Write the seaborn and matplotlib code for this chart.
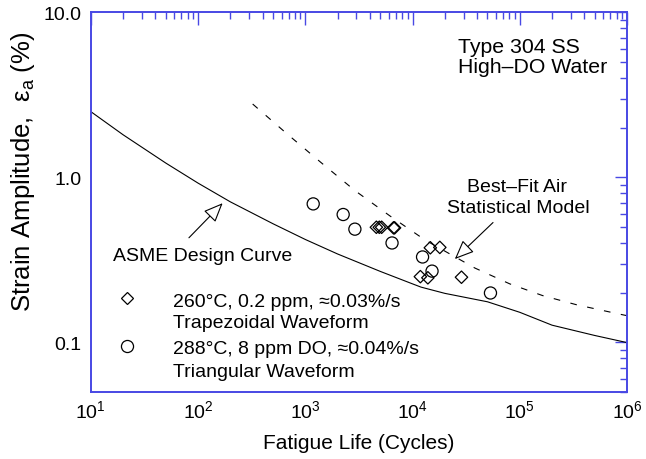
import matplotlib
matplotlib.use("Agg")
import matplotlib.pyplot as plt
import seaborn as sns
from matplotlib.ticker import LogLocator, NullFormatter

# ASME design curve, austenitic stainless steel (strain amplitude in %)
asme_cycles = [10, 20, 50, 100, 200, 500, 1e3, 2e3, 5e3, 1e4, 1.2e4, 2e4,
               5e4, 1e5, 2e5, 5e5, 1e6]
asme_strain = [2.50, 1.81, 1.22, 0.922, 0.710, 0.523, 0.420, 0.343, 0.269,
               0.226, 0.216, 0.198, 0.176, 0.152, 0.127, 0.110, 0.0996]

# Best-fit air statistical model
air_cycles = [323, 678, 1420, 2900, 6140, 13000, 38100, 80700, 163000,
              337000, 818000, 1e6]
air_strain = [2.78, 1.83, 1.22, 0.831, 0.584, 0.418, 0.282, 0.226, 0.192,
              0.169, 0.149, 0.145]

# 260 C, 0.2 ppm, trapezoidal waveform
trap_cycles = [4600, 4900, 5150, 6650, 6800, 14650, 17960, 11830, 13900, 28600]
trap_strain = [0.498, 0.498, 0.498, 0.494, 0.494, 0.374, 0.376, 0.250, 0.246, 0.248]

# 288 C, 8 ppm DO, triangular waveform
tri_cycles = [1185, 2255, 2900, 6440, 12400, 15200, 53300]
tri_strain = [0.690, 0.595, 0.485, 0.400, 0.329, 0.270, 0.199]

y_ticks = [0.1, 1.0, 10.0]
y_tick_labels = ["0.1", "1.0", "10.0"]

sns.set_theme(style="white")
plt.rcParams["font.family"] = ["Liberation Sans", "DejaVu Sans"]
plt.rcParams["mathtext.fontset"] = "custom"
plt.rcParams["mathtext.rm"] = "Liberation Sans"
plt.rcParams["mathtext.it"] = "Liberation Sans:italic"
plt.rcParams["text.color"] = "black"
plt.rcParams["axes.labelcolor"] = "black"
plt.rcParams["xtick.labelcolor"] = "black"
plt.rcParams["ytick.labelcolor"] = "black"

frame = "#4848e4"

fig = plt.figure(figsize=(6.46, 4.60), dpi=100)
ax = fig.add_axes([0.1406, 0.1457, 0.8300, 0.8254])

sns.lineplot(x=asme_cycles, y=asme_strain, ax=ax, color="black", lw=0.8,
             estimator=None, sort=False)
sns.lineplot(x=air_cycles, y=air_strain, ax=ax, color="black", lw=0.8,
             estimator=None, sort=False)
ax.lines[-1].set_dashes([6, 9.5])

sns.scatterplot(x=trap_cycles, y=trap_strain, ax=ax, marker="D", s=40,
                color="black", linewidth=0.9)
sns.scatterplot(x=tri_cycles, y=tri_strain, ax=ax, marker="o", s=76,
                color="black", linewidth=0.9)
for coll in ax.collections:
    coll.set_facecolor("none")
    coll.set_edgecolor("black")

ax.set_xscale("log")
ax.set_yscale("log")
ax.set_xlim(10, 1e6)
ax.set_ylim(0.05, 10)
ax.xaxis.set_major_locator(LogLocator(base=10, numticks=10))
ax.xaxis.set_minor_locator(LogLocator(base=10, subs=range(2, 10), numticks=60))
ax.xaxis.set_minor_formatter(NullFormatter())
ax.set_yticks(y_ticks, labels=y_tick_labels)
ax.yaxis.set_minor_locator(LogLocator(base=10, subs=range(2, 10), numticks=60))
ax.yaxis.set_minor_formatter(NullFormatter())

for sp in ax.spines.values():
    sp.set_color(frame)
    sp.set_linewidth(1.4)
ax.tick_params(which="both", direction="in", top=True, right=True,
               color=frame, width=1.0, labelsize=14, labelcolor="black")
ax.tick_params(which="major", length=9)
ax.tick_params(which="minor", length=4.7)
ax.tick_params(axis="y", pad=6.5)
ax.tick_params(axis="x", pad=5)

ax.set_xlabel("Fatigue Life (Cycles)", fontsize=15, color="black", labelpad=9)
ax.set_ylabel("Strain Amplitude,  ε$_\\mathregular{a}$ (%)", fontsize=18.5,
              color="black")
ax.yaxis.set_label_coords(-0.100, 0.583)

tf = ax.transAxes
ax.text(0.6848, 0.8946, "Type 304 SS", transform=tf, fontsize=15.3,
        ha="left", va="baseline")
ax.text(0.6848, 0.8436, "High\u2013DO Water", transform=tf, fontsize=15.3,
        ha="left", va="baseline")
ax.text(0.7939, 0.5302, "Best\u2013Fit Air", transform=tf, fontsize=14,
        ha="center", va="baseline")
ax.text(0.7967, 0.4748, "Statistical Model", transform=tf, fontsize=14,
        ha="center", va="baseline")
ax.text(0.0414, 0.3484, "ASME Design Curve", transform=tf, fontsize=14,
        ha="left", va="baseline")

arrow_kw = dict(arrowstyle="-|>,head_length=0.85,head_width=0.36",
                mutation_scale=14, fc="white", ec="black", lw=0.8,
                shrinkA=0, shrinkB=0)
ax.annotate("", xy=(24800, 0.3195), xytext=(56300, 0.532),
            arrowprops=arrow_kw)
ax.annotate("", xy=(169.5, 0.697), xytext=(82.2, 0.43),
            arrowprops=arrow_kw)

# Legend drawn inside the axes
ax.plot([0.0666], [0.2462], transform=tf, marker="D", ms=6.3, mfc="none",
        mec="black", mew=0.9, ls="none")
ax.plot([0.0666], [0.1211], transform=tf, marker="o", ms=8.7, mfc="none",
        mec="black", mew=0.9, ls="none")
legend_lines = [
    (0.2273, "260°C, 0.2 ppm, \u22480.03%/s"),
    (0.1704, "Trapezoidal Waveform"),
    (0.1027, "288°C, 8 ppm DO, \u22480.04%/s"),
    (0.0429, "Triangular Waveform"),
]
for yy, txt in legend_lines:
    ax.text(0.1527, yy, txt, transform=tf, fontsize=14, ha="left",
            va="baseline")

fig.savefig("out.png", dpi=100)
